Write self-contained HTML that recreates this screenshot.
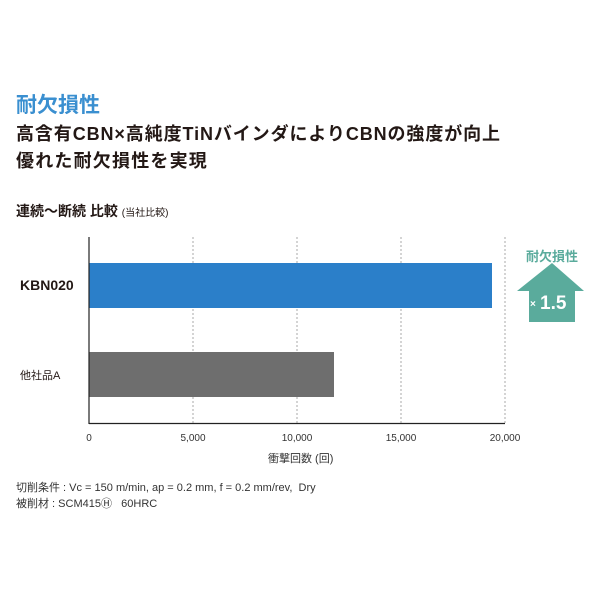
<!DOCTYPE html>
<html><head><meta charset="utf-8"><style>
body{margin:0;width:600px;height:600px;background:#fff;position:relative;overflow:hidden;font-family:"Liberation Sans","Noto Sans CJK JP",sans-serif;color:#231815}
.a{position:absolute;white-space:nowrap}
</style></head><body>
<div class="a" style="left:16px;top:89px;font-size:21px;font-weight:bold;color:#3a8fd0">耐欠損性</div>
<div class="a" style="left:16px;top:120px;font-size:18px;font-weight:bold;letter-spacing:0.9px">高含有CBN×高純度TiNバインダによりCBNの強度が向上</div>
<div class="a" style="left:16px;top:147px;font-size:18px;font-weight:bold;letter-spacing:1.2px">優れた耐欠損性を実現</div>
<div class="a" style="left:16px;top:201px;font-size:14px;font-weight:bold">連続〜断続 比較 <span style="font-size:10px;font-weight:normal">(当社比較)</span></div>
<svg class="a" style="left:0;top:0" width="600" height="600">
<g stroke="#aaa" stroke-dasharray="2,2" stroke-width="1">
<line x1="193" y1="237" x2="193" y2="423"/><line x1="297" y1="237" x2="297" y2="423"/><line x1="401" y1="237" x2="401" y2="423"/><line x1="505" y1="237" x2="505" y2="423"/>
</g>
<rect x="89" y="263" width="403" height="45" fill="#2b7fc9"/>
<rect x="89" y="352" width="245" height="45" fill="#6e6e6e"/>
<line x1="89" y1="237" x2="89" y2="424" stroke="#222" stroke-width="1.2"/>
<line x1="89" y1="423.5" x2="505" y2="423.5" stroke="#222" stroke-width="1.2"/>
<polygon points="552,263 584,291 575,291 575,322 529,322 529,291 517,291" fill="#5aab9c"/>
<g font-size="10" fill="#333" text-anchor="middle">
<text x="89" y="441">0</text><text x="193" y="441">5,000</text><text x="297" y="441">10,000</text><text x="401" y="441">15,000</text><text x="505" y="441">20,000</text>
</g>
<text x="552" y="261" font-size="13" font-weight="bold" fill="#5aab9c" text-anchor="middle">耐欠損性</text>
<text x="530" y="307" font-size="10" font-weight="bold" fill="#fff">×</text>
<text x="540" y="309" font-size="19" font-weight="bold" fill="#fff">1.5</text>
</svg>
<div class="a" style="left:20px;top:277px;font-size:14px;font-weight:bold">KBN020</div>
<div class="a" style="left:20px;top:367px;font-size:11px">他社品A</div>
<div class="a" style="left:268px;top:450px;font-size:11px;color:#333">衝撃回数 (回)</div>
<div class="a" style="left:16px;top:479px;font-size:11px;color:#333">切削条件 : Vc = 150 m/min, ap = 0.2 mm, f = 0.2 mm/rev,&nbsp; Dry</div>
<div class="a" style="left:16px;top:495px;font-size:11px;color:#333">被削材 : SCM415Ⓗ&nbsp;&nbsp; 60HRC</div>
</body></html>
